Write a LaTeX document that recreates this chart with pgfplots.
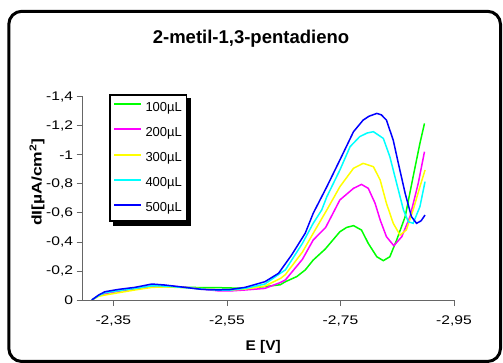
\documentclass[border=0pt]{standalone}
\usepackage{fontspec}
\setmainfont{Liberation Sans}
\usepackage{graphicx}
\usepackage{pgfplots}
\pgfplotsset{compat=1.18}
\usetikzlibrary{calc}
\definecolor{cgreen}{RGB}{0,255,0}
\definecolor{cmag}{RGB}{255,0,255}
\definecolor{cyel}{RGB}{255,255,0}
\definecolor{ccyan}{RGB}{0,255,255}
\definecolor{cblue}{RGB}{0,0,255}
\newcommand{\tl}[1]{\scalebox{1.25}[1]{#1}}
\begin{document}
\begin{tikzpicture}
\path[use as bounding box] (0,0) rectangle (503pt,363pt);
\draw[line width=3pt, rounded corners=13pt] (8.8pt,1.5pt) rectangle (500.5pt,351.7pt);
\node[font=\bfseries\fontsize{18.5}{20}\selectfont] at (251pt,324pt) {2-metil-1,3-pentadieno};
\begin{axis}[
  at={(82.7pt,63pt)}, anchor=south west,
  scale only axis, width=371.3pt, height=203.3pt,
  x dir=reverse, y dir=reverse,
  xmin=-2.95, xmax=-2.296, ymin=-1.4, ymax=0,
  axis x line*=bottom, axis y line*=left,
  axis line style={gray!80!black, line width=0.8pt},
  tick style={gray!80!black, line width=0.8pt},
  tick align=outside, major tick length=6pt,
  xtick={-2.35,-2.55,-2.75,-2.95},
  xticklabels={\tl{-2,35},\tl{-2,55},\tl{-2,75},\tl{-2,95}},
  ytick={-1.4,-1.2,-1,-0.8,-0.6,-0.4,-0.2,0},
  yticklabels={\tl{-1,4},\tl{-1,2},\tl{-1},\tl{-0,8},\tl{-0,6},\tl{-0,4},\tl{-0,2},\tl{0}},
  ticklabel style={font=\fontsize{12.5}{14}\selectfont},
  xticklabel style={yshift=-6pt},
  xlabel={\scalebox{1.1}[1]{E [V]}},
  ylabel={\scalebox{1.25}[1]{dI[µA/cm\textsuperscript{2}]}},
  label style={font=\bfseries\fontsize{14}{16}\selectfont},
  xlabel style={at={(axis description cs:0.486,-0.231)}, anchor=center},
  ylabel style={at={(axis description cs:-0.123,0.58)}, anchor=center},
  legend style={name=leg, at={(axis description cs:0.0714,1.013)}, anchor=north west,
    draw=black, line width=1.6pt, fill=white,
    inner xsep=3pt, inner ysep=5.3pt, row sep=10.2pt,
    font=\fontsize{13}{14}\selectfont,
    nodes={inner sep=1.5pt, text height=9.5pt, text depth=2.5pt},
    /tikz/every odd column/.append style={column sep=2pt}},
  legend cell align=left,
  legend image code/.code={\draw[#1, line width=2pt, line cap=butt] (0pt,3.5pt) -- (27pt,3.5pt);},
  every axis plot/.append style={line width=1.5pt, mark=none},
]
\addplot[cgreen] coordinates {
(-2.312,0) (-2.324,-0.03) (-2.335,-0.045) (-2.359,-0.062) (-2.388,-0.078) (-2.418,-0.092) (-2.441,-0.092) (-2.476,-0.088) (-2.506,-0.085) (-2.535,-0.085) (-2.555,-0.083) (-2.582,-0.080) (-2.617,-0.092) (-2.644,-0.105) (-2.653,-0.126) (-2.673,-0.161) (-2.688,-0.207) (-2.702,-0.275) (-2.723,-0.35) (-2.749,-0.470) (-2.761,-0.500) (-2.773,-0.512) (-2.787,-0.482) (-2.799,-0.390) (-2.814,-0.298) (-2.8255,-0.271) (-2.837,-0.298) (-2.849,-0.413) (-2.864,-0.574) (-2.878,-0.849) (-2.890,-1.079) (-2.898,-1.216)};
\addlegendentry{100µL}
\addplot[cmag] coordinates {
(-2.312,0) (-2.324,-0.03) (-2.335,-0.045) (-2.359,-0.062) (-2.388,-0.080) (-2.418,-0.095) (-2.441,-0.098) (-2.476,-0.088) (-2.506,-0.075) (-2.535,-0.063) (-2.555,-0.062) (-2.582,-0.069) (-2.617,-0.080) (-2.644,-0.120) (-2.653,-0.138) (-2.683,-0.28) (-2.702,-0.413) (-2.724,-0.50) (-2.749,-0.689) (-2.773,-0.769) (-2.787,-0.796) (-2.799,-0.769) (-2.811,-0.666) (-2.820,-0.551) (-2.831,-0.436) (-2.844,-0.374) (-2.858,-0.436) (-2.8725,-0.574) (-2.887,-0.803) (-2.898,-1.021)};
\addlegendentry{200µL}
\addplot[cyel] coordinates {
(-2.312,0) (-2.324,-0.025) (-2.335,-0.034) (-2.359,-0.050) (-2.388,-0.069) (-2.418,-0.087) (-2.441,-0.090) (-2.476,-0.085) (-2.506,-0.078) (-2.535,-0.070) (-2.555,-0.068) (-2.582,-0.075) (-2.617,-0.096) (-2.645,-0.150) (-2.653,-0.175) (-2.683,-0.33) (-2.702,-0.459) (-2.726,-0.620) (-2.749,-0.780) (-2.773,-0.907) (-2.790,-0.941) (-2.808,-0.918) (-2.820,-0.826) (-2.831,-0.666) (-2.843,-0.528) (-2.855,-0.447) (-2.866,-0.482) (-2.878,-0.620) (-2.890,-0.780) (-2.899,-0.895)};
\addlegendentry{300µL}
\addplot[ccyan] coordinates {
(-2.312,0) (-2.324,-0.03) (-2.335,-0.05) (-2.359,-0.065) (-2.388,-0.08) (-2.418,-0.098) (-2.441,-0.096) (-2.476,-0.085) (-2.506,-0.075) (-2.535,-0.068) (-2.555,-0.068) (-2.582,-0.080) (-2.617,-0.110) (-2.644,-0.184) (-2.653,-0.207) (-2.683,-0.39) (-2.702,-0.528) (-2.717,-0.62) (-2.726,-0.711) (-2.749,-0.895) (-2.767,-1.056) (-2.784,-1.125) (-2.797,-1.15) (-2.808,-1.159) (-2.8255,-1.113) (-2.837,-0.987) (-2.849,-0.803) (-2.861,-0.620) (-2.8695,-0.539) (-2.878,-0.528) (-2.890,-0.643) (-2.899,-0.815)};
\addlegendentry{400µL}
\addplot[cblue] coordinates {
(-2.312,0) (-2.324,-0.034) (-2.335,-0.057) (-2.359,-0.073) (-2.388,-0.087) (-2.418,-0.110) (-2.441,-0.103) (-2.476,-0.087) (-2.506,-0.073) (-2.535,-0.070) (-2.555,-0.072) (-2.582,-0.087) (-2.617,-0.126) (-2.641,-0.184) (-2.664,-0.31) (-2.688,-0.46) (-2.702,-0.597) (-2.726,-0.78) (-2.749,-0.964) (-2.773,-1.159) (-2.790,-1.239) (-2.800,-1.265) (-2.814,-1.285) (-2.822,-1.275) (-2.831,-1.239) (-2.843,-1.10) (-2.852,-0.941) (-2.864,-0.734) (-2.875,-0.574) (-2.884,-0.528) (-2.892,-0.545) (-2.899,-0.585)};
\addlegendentry{500µL}
\end{axis}
\fill[black] ($(leg.south west)+(3.5pt,0pt)$) rectangle ($(leg.south east)+(3.5pt,-3.5pt)$);
\fill[black] ($(leg.north east)+(0pt,-3.5pt)$) rectangle ($(leg.south east)+(3.5pt,-3.5pt)$);
\end{tikzpicture}
\end{document}
